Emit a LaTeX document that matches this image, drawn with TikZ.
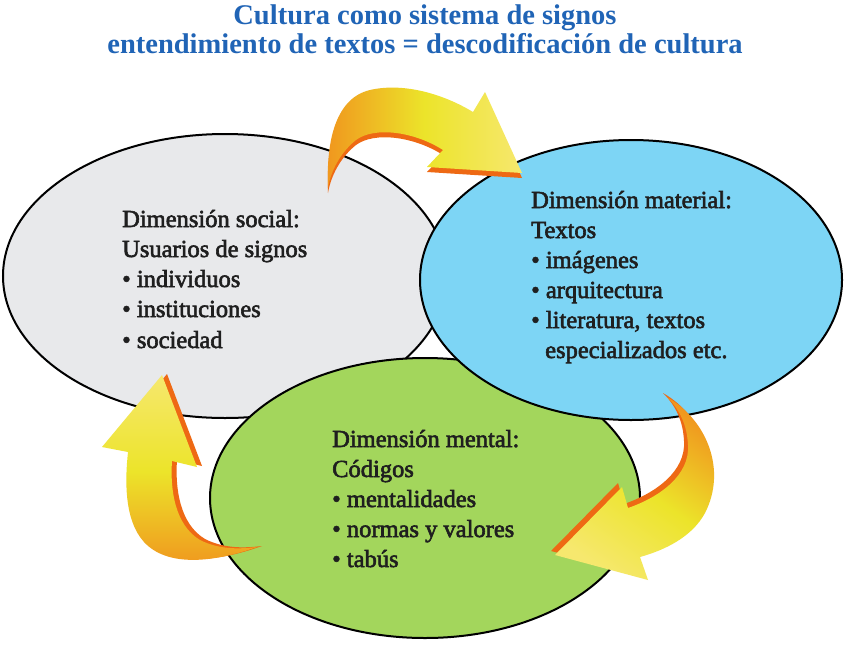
\documentclass[tikz,border=0pt]{standalone}
\usepackage{fontspec}
\setmainfont{Liberation Serif}
\newfontfamily\bodyfont{Liberation Serif}[FakeBold=2.4]
\usetikzlibrary{shapes.geometric}
\definecolor{titleblue}{RGB}{32,100,182}
\definecolor{socialgray}{RGB}{232,233,235}
\definecolor{materialblue}{RGB}{125,213,245}
\definecolor{mentalgreen}{RGB}{163,214,92}
\definecolor{arrorange}{RGB}{240,150,30}
\definecolor{arryellow}{RGB}{236,228,42}
\definecolor{arrlight}{RGB}{246,232,110}
\definecolor{arrside}{RGB}{238,105,20}
\tikzset{
  blob/.style={ellipse, draw=black, line width=2pt, inner sep=0pt},
  titletxt/.style={anchor=base, font=\bfseries\fontsize{28.5}{34}\selectfont, text=titleblue, inner sep=0pt},
  txt/.style={anchor=base west, font=\bodyfont\fontsize{24.5}{30}\selectfont, text=black!88, inner sep=0pt},
  arrowside/.style={fill=arrside},
}
\begin{document}
\begin{tikzpicture}[x=1pt,y=-1pt]
\useasboundingbox (0,0) rectangle (850,651);
\fill[white] (0,0) rectangle (850,651);

% title
\node[titletxt] (t1) at (425,24) {Cultura como sistema de signos};
\node[titletxt] (t2) at (425,53) {entendimiento de textos = descodificación de cultura};

% ellipses
\node[blob, fill=socialgray, minimum width=444pt, minimum height=284pt] (social) at (225,276) {};
\node[blob, fill=mentalgreen, minimum width=430pt, minimum height=280pt] (mental) at (425,498) {};
\node[blob, fill=materialblue, minimum width=422pt, minimum height=280pt] (material) at (631,280) {};

% social text
\node[txt] (s1) at (122,227) {Dimensión social:};
\node[txt] (s2) at (122,257) {Usuarios de signos};
\node[txt] (s3) at (122,287) {• individuos};
\node[txt] (s4) at (122,317) {• instituciones};
\node[txt] (s5) at (122,348) {• sociedad};

% material text
\node[txt] (m1) at (531,208) {Dimensión material:};
\node[txt] (m2) at (531,238) {Textos};
\node[txt] (m3) at (531,268) {• imágenes};
\node[txt] (m4) at (531,298) {• arquitectura};
\node[txt] (m5) at (531,328) {• literatura, textos};
\node[txt] (m6) at (545,358) {especializados etc.};

% mental text
\node[txt] (g1) at (332,447) {Dimensión mental:};
\node[txt] (g2) at (332,477) {Códigos};
\node[txt] (g3) at (332,507) {• mentalidades};
\node[txt] (g4) at (332,537) {• normas y valores};
\node[txt] (g5) at (332,567) {• tabús};

% top arrow (social -> material)
\def\toparrow{(328,188) .. controls (326,140) and (336,98) .. (370,90)
  .. controls (405,82) and (445,95) .. (473,112) -- (485,92) -- (522,173) -- (427,167) -- (443,150)
  .. controls (415,132) and (375,126) .. (356,140) .. controls (341,152) and (331,170) .. (328,188) -- cycle}
\fill[arrowside, shift={(0pt,-5pt)}] \toparrow;
\shade[left color=arrorange, right color=arrlight, middle color=arryellow] \toparrow;

% right arrow (material -> mental)
\def\rightarrow{(667,397) .. controls (707,420) and (727,470) .. (705,513)
  .. controls (692,537) and (665,550) .. (640,557) -- (648,580) -- (555,555) -- (622,487) -- (628,508)
  .. controls (660,497) and (690,475) .. (688,445) .. controls (687,425) and (680,410) .. (667,397) -- cycle}
\fill[arrowside, shift={(-4pt,4pt)}] \rightarrow;
\shade[top color=arrorange, bottom color=arrlight, middle color=arryellow, shading angle=-35] \rightarrow;

% left arrow (mental -> social)
\def\leftarrow{(257,547) .. controls (215,562) and (168,568) .. (144,542)
  .. controls (124,520) and (125,480) .. (128,452) -- (102,447) -- (162,375) -- (197,467) -- (172,461)
  .. controls (170,490) and (175,525) .. (200,540) .. controls (220,550) and (240,549) .. (257,547) -- cycle}
\fill[arrowside, shift={(5pt,1pt)}] \leftarrow;
\shade[top color=arrlight, bottom color=arrorange, middle color=arryellow] \leftarrow;
\end{tikzpicture}
\end{document}
